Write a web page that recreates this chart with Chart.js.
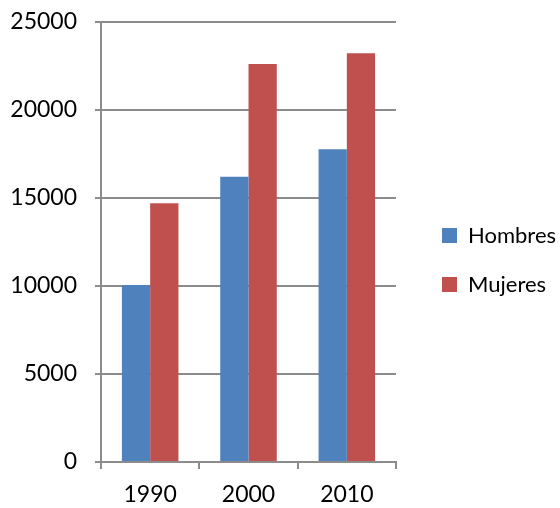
<!DOCTYPE html>
<html>
<head>
<meta charset="utf-8">
<script src="https://cdn.jsdelivr.net/npm/chart.js@4"></script>
<style>
  html, body { margin: 0; padding: 0; background: #fff; }
  #wrap { width: 560px; height: 508px; }
</style>
</head>
<body>
<div id="wrap"><canvas id="chart"></canvas></div>
<script>
const years = ['1990', '2000', '2010'];
const hombres = [10060, 16210, 17770];
const mujeres = [14700, 22610, 23220];
const yTicks = [0, 5000, 10000, 15000, 20000, 25000];

const FONT = 'Lato, "Open Sans", sans-serif';
const gridColor = '#8c8c8c';

// legend: reserve more room on its left, but keep the items where they are
const EXTRA = 24, SHIFT = 19, DROP = 6;
const legendShift = {
    id: 'legendShift',
    beforeInit(chart) {
        const lg = chart.legend;
        if (!lg) return;
        const fit = lg.fit;
        lg.fit = function () {
            fit.call(this);
            this.width += EXTRA;
        };
    },
    afterLayout(chart) {
        if (chart.legend) {
            chart.legend.left += SHIFT;
            chart.legend.top += DROP;
            chart.legend.bottom += DROP;
        }
    }
};

const ctx = document.getElementById('chart').getContext('2d');
new Chart(ctx, {
    type: 'bar',
    data: {
        labels: years,
        datasets: [
            { label: 'Hombres', data: hombres, backgroundColor: '#4f81bd' },
            { label: 'Mujeres', data: mujeres, backgroundColor: '#c0504d' }
        ]
    },
    options: {
        responsive: true,
        maintainAspectRatio: false,
        animation: false,
        layout: { padding: { top: 0, right: 0, bottom: 0, left: 0 } },
        datasets: { bar: { categoryPercentage: 0.575, barPercentage: 1.0 } },
        plugins: {
            tooltip: { enabled: false },
            legend: {
                position: 'right',
                align: 'center',
                labels: {
                    font: { family: FONT, size: 22 },
                    color: '#000',
                    boxWidth: 15,
                    boxHeight: 15,
                    padding: 27
                }
            }
        },
        scales: {
            x: {
                grid: { display: true, drawOnChartArea: false, drawTicks: true, tickLength: 7, color: gridColor, lineWidth: 2, offset: true },
                border: { color: gridColor, width: 2 },
                ticks: { font: { family: FONT, size: 23, lineHeight: 1 }, color: '#000', padding: 14 },
                afterFit: axis => { axis.height = 46; }
            },
            y: {
                min: 0,
                max: 25000,
                afterBuildTicks: axis => { axis.ticks = yTicks.map(v => ({ value: v })); },
                grid: { color: gridColor, lineWidth: 2, tickLength: 6 },
                border: { color: gridColor, width: 2 },
                ticks: {
                    font: { family: FONT, size: 23, lineHeight: 1 },
                    color: '#000',
                    padding: 18,
                    callback: v => String(v)
                },
                afterFit: axis => {
                    axis.width = 101;
                    axis.paddingTop = 22;
                    axis.paddingBottom = 0;
                }
            }
        }
    },
    plugins: [legendShift]
});
</script>
</body>
</html>
